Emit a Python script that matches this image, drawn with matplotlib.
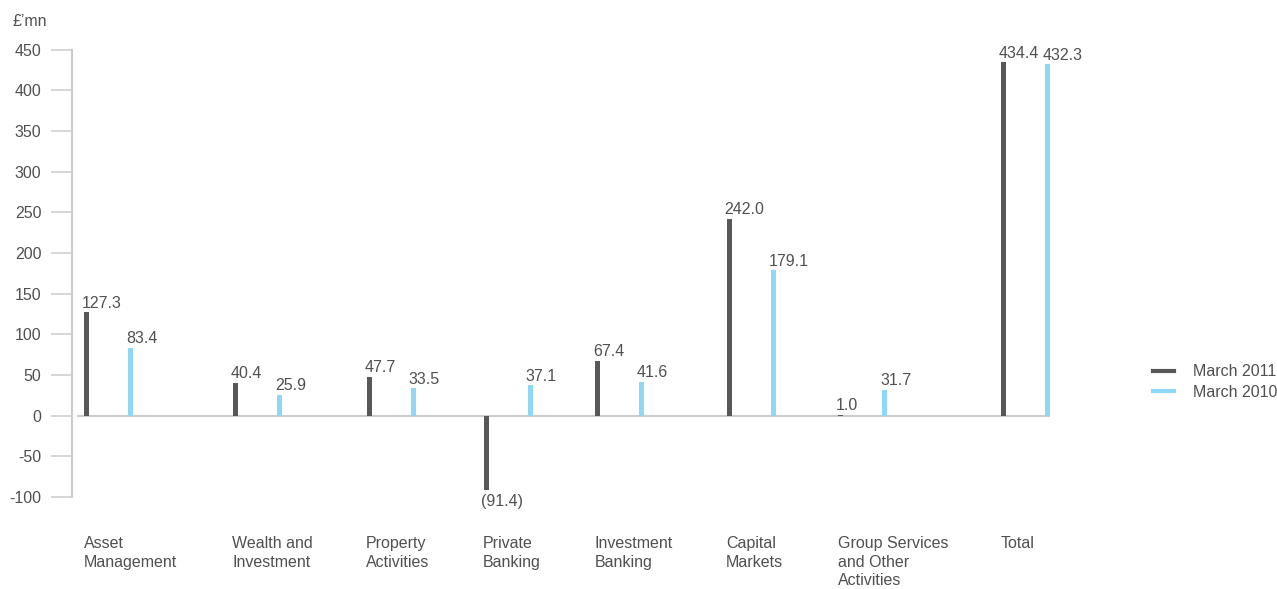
import matplotlib
matplotlib.use("Agg")
import matplotlib.pyplot as plt
import matplotlib.transforms as mtransforms
from matplotlib.lines import Line2D

# Operating profit by division, £'mn
categories = [
    "Asset\nManagement",
    "Wealth and\nInvestment",
    "Property\nActivities",
    "Private\nBanking",
    "Investment\nBanking",
    "Capital\nMarkets",
    "Group Services\nand Other\nActivities",
    "Total",
]
march_2011 = [127.3, 40.4, 47.7, -91.4, 67.4, 242.0, 1.0, 434.4]
march_2010 = [83.4, 25.9, 33.5, 37.1, 41.6, 179.1, 31.7, 432.3]
y_ticks = [-100, -50, 0, 50, 100, 150, 200, 250, 300, 350, 400, 450]

# Layout: group positions in pixel units (categories are unevenly spaced)
group_x = [86.5, 235.5, 369, 486, 597.5, 729, 840.5, 1003.5]
pair_gap = 44
bar_w = 5

DARK = "#58585a"
LIGHT = "#8fd7f7"
GRID = "#cccccc"
TEXT = "#505050"

plt.rcParams["font.family"] = ["Liberation Sans", "DejaVu Sans"]
plt.rcParams["font.size"] = 11.5

W, H = 1277, 589
fig = plt.figure(figsize=(W / 100, H / 100), dpi=100)
ax_left, ax_right, ax_top, ax_bottom = 72, 1060, 49.5, 497
ax = fig.add_axes([ax_left / W, (H - ax_bottom) / H,
                   (ax_right - ax_left) / W, (ax_bottom - ax_top) / H])
ax.set_xlim(ax_left, ax_right)
ax.set_ylim(-100, 450)

x11 = group_x
x10 = [x + pair_gap for x in group_x]
ax.bar(x11, march_2011, width=bar_w, color=DARK, zorder=3)
ax.bar(x10, march_2010, width=bar_w, color=LIGHT, zorder=3)

# zero line
ax.hlines(0, 77, 1050, color=GRID, lw=1.5, zorder=2)


def fmt(v):
    return f"({abs(v):.1f})" if v < 0 else f"{v:.1f}"


for xs, vals in ((x11, march_2011), (x10, march_2010)):
    for x, v in zip(xs, vals):
        if v >= 0:
            ax.annotate(fmt(v), (x - bar_w / 2 - 2, v), xytext=(0, 1),
                        textcoords="offset points", ha="left", va="bottom",
                        color=TEXT)
        else:
            ax.annotate(fmt(v), (x - bar_w / 2 - 2, v), xytext=(0, -3),
                        textcoords="offset points", ha="left", va="top",
                        color=TEXT)

# axes styling
for s in ("top", "right", "bottom"):
    ax.spines[s].set_visible(False)
ax.spines["left"].set_color(GRID)
ax.spines["left"].set_linewidth(1.5)
ax.set_yticks(y_ticks)
ax.set_yticklabels([str(t) for t in y_ticks])
ax.tick_params(axis="y", length=15, width=1.1, color=GRID, pad=7,
               labelcolor=TEXT)
ax.set_xticks([])

# category labels below the plot
trans = mtransforms.blended_transform_factory(ax.transData, fig.transFigure)
for x, lab in zip(group_x, categories):
    ax.text(x - 3, (H - 536) / H, lab, transform=trans, ha="left", va="top",
            color=TEXT, linespacing=1.3)

fig.text(12 / W, (H - 21) / H, "£’mn", ha="left", va="center", color=TEXT)

handles = [Line2D([], [], color=DARK, lw=3),
           Line2D([], [], color=LIGHT, lw=3)]
fig.legend(handles, ["March 2011", "March 2010"], loc="center left",
           bbox_to_anchor=(1139 / W, (H - 382) / H), frameon=False,
           handlelength=1.3, handletextpad=1.2, labelspacing=0.35,
           labelcolor=TEXT)

fig.savefig("out.png", dpi=100)
